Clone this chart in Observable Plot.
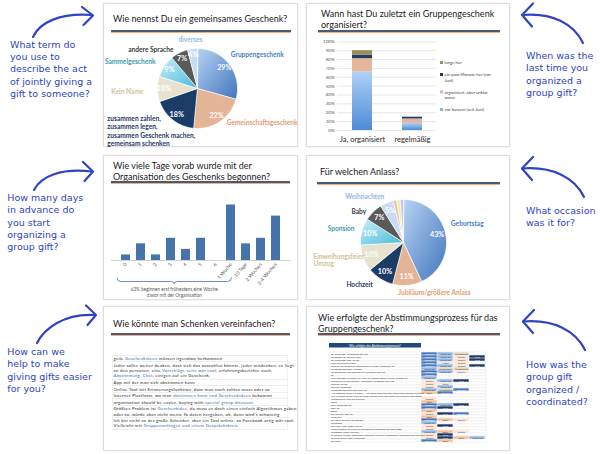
<!DOCTYPE html>
<html><head><meta charset="utf-8">
<script src="https://cdn.jsdelivr.net/npm/d3@7"></script>
<script src="https://cdn.jsdelivr.net/npm/@observablehq/plot@0.6"></script>
<style>
body{margin:0;background:#fff}
#page{position:relative;width:600px;height:454px;overflow:hidden;background:#fff;font-family:Lato,"Open Sans",sans-serif;color:#262626}
.card{position:absolute;background:#fff;border:1px solid #dedede;box-shadow:0 0 2px rgba(0,0,0,0.10);box-sizing:border-box}
.title{position:absolute;font-size:9px;line-height:11px;color:#1b1b1b;white-space:nowrap}
.rule{position:absolute;height:2px;background:#4b5a74;border-bottom:1px solid #f2ae7c}
.note{position:absolute;font-family:"DejaVu Sans",sans-serif;font-size:9.5px;line-height:12.3px;color:#2f44c4;white-space:nowrap}
.layer{position:absolute;left:0;top:0;width:600px;height:454px}
.half{position:absolute;transform:scale(0.5);transform-origin:0 0;white-space:nowrap}
.legend .item{display:flex;align-items:flex-start;margin-bottom:14px;font-size:8.6px;line-height:10.4px;color:#404040}
.legend .sw{width:6px;height:6px;margin:2px 3px 0 0;flex:none}
.answers{border-top:1px solid #d9d9d9;width:352px}
.answers > div{border-bottom:1px solid #dcdcdc;border-left:1px solid #e4e4e4;border-right:1px solid #e4e4e4;padding:0.8px 2px;font-size:8.6px;line-height:10.6px;letter-spacing:0.55px;color:#262626;white-space:nowrap}
.answers .ln{display:block}
.answers span{color:#3e68b0}
</style></head>
<body>
<div id="page">
<svg width="0" height="0" style="position:absolute">
  <defs>
    <linearGradient id="gBlue" x1="0" y1="0" x2="1" y2="1"><stop offset="0" stop-color="#b8d2f3"/><stop offset="1" stop-color="#3f76bd"/></linearGradient>
    <linearGradient id="gCyan" x1="0" y1="0" x2="1" y2="1"><stop offset="0" stop-color="#c8eefa"/><stop offset="1" stop-color="#47b9d8"/></linearGradient>
    <linearGradient id="gBar" x1="0" y1="0" x2="0" y2="1"><stop offset="0" stop-color="#aed1f8"/><stop offset="1" stop-color="#4d8bd4"/></linearGradient>
  </defs>
</svg>
</div>
<script>
// ================= DATA =================
// Panel 1 – Wie nennst Du ein gemeinsames Geschenk?
const termCategories = ["Gruppengeschenk","Gemeinschaftsgeschenk","zusammen zahlen,\nzusammen legen,\nzusammen Geschenk machen,\ngemeinsam schenken","Kein Name","Sammelgeschenk","andere Sprache","diverses"];
const termShares = [29,22,18,10,9,7,4];

// Panel 2 – Wann hast Du zuletzt ein Gruppengeschenk organisiert?
const lastCategories = ["Ja, organisiert","regelmäßig"];
const lastSeries = ["vor kurzem (seit Juni)","organisiert, aber unklar wann","ein paar Monate her (vor Juni)","lange her"];
const lastJa = [66,15,4,5];
const lastRegelmaessig = [8,5,2,0];
const lastTicks = [0,10,20,30,40,50,60,70,80,90,100];
const legendOrder = ["lange her","ein paar Monate her (vor\nJuni)","organisiert, aber unklar\nwann","vor kurzem (seit Juni)"];

// Panel 3 – Wie viele Tage vorab ...
const daysCategories = ["0","1","2","3","4","5","6","1 Woche","10 Tage","2 Wochen","3-4 Wochen"];
const daysCounts = [1,3,1,4,2,4,0,10,3,4,8];
const daysNote = "63% beginnen erst frühestens eine Woche\ndavor mit der Organisation";

// Panel 4 – Für welchen Anlass?
const occasionCategories = ["Geburtstag","Jubiläum/größere Anlass","Hochzeit","Einweihungsfeier\nUmzug","Sponsion","Baby","Weihnachten","","",""];
const occasionShares = [43,11,10,10,10,7,5,1.3,1.3,1.3];

// Panel 5 – Wie könnte man Schenken vereinfachen?
const simplifyAnswers = [
 "geile [Geschenkideen] müssen irgendwo herkommen",
 "Jeder sollte weiter denken, dass sich das auszahlen könnte, jeder mitdenken, es liegt\nan den personen, eine [Vorschläge seite wär cool], erfahrungsberichte auch,\n[Abstimmung, Chat], einigen auf ein Geschenk,",
 "App mit der man sich abstimmen kann",
 "Online Tool mit Erinnerungsfunktion, dass man noch zahlen muss oder so",
 "Internet Plattform, wo man [abstimmen kann und Geschenkideen] bekommt",
 "organisation should be easier, buying with [special group discount]",
 "Größtes Problem ist [Geschenkidee], da muss es doch einen einfach Algorithmus geben\noder so, würde aber nicht meine fb daten hergeben, ok, dann wird's schwierig",
 "Ich bin nicht so der große Schenker, aber ein Tool online, so Facebook artig wär cool.\nVielleicht mit [Gruppenanfragen und einem Gesprächskreis]"
];

// Panel 6 – Wie erfolgte der Abstimmungsprozess?
const processHeader = "Wie erfolgte der Abstimmungsprozess?";
const processAnswers = [
 "fb, whatsapp, Gruppenchats halt","whatsapp, fb, telefon, sms","fb, whatsapp, sms, Skype","über fb/telefon/video",
 "Telefon, bei größeren Geschenken via sms, whatsapp, fb","whatsapp gesucht, Hmmhs","Gruppenchat, bei anderen via whatsapp oder fb","fb",
 "via whatsapp in einem Fall, aber es kommt immer auf die Gruppe an","in diesem Fall telefonisch, ansonsten whatsapp, sms, etc.","Telefon, Skype","telefon, whatsapp",
 "whatsapp gesucht chat, oder fb","Alle angeschrieben via email -> fb, dann Infos erhalten, geht dann danach erhalten","Wir wussten direkt, dass es nicht einfach wird und haben die anderen überzeugt","(hin)gewählt, alles per Telefon",
 "Email","sms, whatsapp, fb","sms, fb","Email","per telefon, sms, fb","über mail","fb, email, telefon, mundpost","whatsapp",
 "fb/video, sms, hatte kein fb","Familienintern per Telefon besprochen nachdem ich über hatte","whatsapp, email, telefon",
 "in diesem Fall gar, haben das Geschenk einfach vorgegeben, ansonsten die Inhalten","Telefon, Email, sms, whatsapp","fb, email"
];
const processMethods = [
 ["Facebook","WhatsApp","Gruppenchat"],["Facebook","WhatsApp","Telefon","SMS"],["Facebook","WhatsApp","Telefon","SMS"],["Facebook","Video","Telefon"],
 ["Facebook","WhatsApp","Telefon","SMS"],["WhatsApp","Gruppenchat","Gruppenchat"],["Facebook","WhatsApp","Telefon"],["Facebook"],
 ["WhatsApp"],["Telefon","WhatsApp","SMS"],["Telefon","Skype"],["Telefon","WhatsApp"],
 ["WhatsApp","Gruppenchat","Facebook"],["Email","Facebook"],[],["Telefon"],
 ["Email"],["Facebook","WhatsApp","SMS"],["Facebook","SMS"],["Email"],["Telefon","SMS","Facebook"],["Email"],["Facebook","Email","Telefon"],["WhatsApp"],
 ["Telefon","SMS"],["Telefon"],["WhatsApp","Email","Telefon"],
 ["Telefon","SMS"],["Telefon","SMS","Email","WhatsApp"],["Facebook","Email"]
];

// Side annotations
const notesLeft = ["What term do\nyou use to\ndescribe the act\nof jointly giving a\ngift to someone?","How many days\nin advance do\nyou start\norganizing a\ngroup gift?","How can we\nhelp to make\ngiving gifts easier\nfor you?"];
const notesRight = ["When was the\nlast time you\norganized a\ngroup gift?","What occasion\nwas it for?","How was the\ngroup gift\norganized /\ncoordinated?"];

// Panel titles
const titles = ["Wie nennst Du ein gemeinsames Geschenk?","Wann hast Du zuletzt ein Gruppengeschenk\norganisiert?","Wie viele Tage vorab wurde mit der\nOrganisation des Geschenks begonnen?","Für welchen Anlass?","Wie könnte man Schenken vereinfachen?","Wie erfolgte der Abstimmungsprozess für das\nGruppengeschenk?"];

// ================= STYLES =================
const termFills = ["url(#gBlue)","#e4b496","#1c3c68","#e7e2d0","url(#gCyan)","#5a5a5a","#c9dcf3"];
const termLabelFills = ["#4a7ebf","#e49c6e","#1f3864","#cdc29c","#3b9ab5","#3a3a3a","#93b6e4"];
const termAnchors = ["start","start","start","end","end","end","middle"];
const termNudges = [[-5,-5],[2,-6],[-60.5,4.7],[-6,2],[-2,0],[-2,4],[-1,-1]];
const occFills = ["url(#gBlue)","#e4b496","#1c3c68","#e7e2d0","url(#gCyan)","#5a5a5a","#c9dcf3","#f3b8b6","#e6f0a2","#cfc3e2"];
const occLabelFills = ["#4a7ebf","#e49c6e","#1f3864","#d0bf93","#3b9ab5","#3a3a3a","#93b6e4","","",""];
const occAnchors = ["start","start","end","start","end","end","end","end","end","end"];
const occNudges = [[-3,-8],[-10,-1],[-3,-1.5],[-42,-1.3],[1,-1],[-1,5.5],[1,1.5],[0,0],[0,0],[0,0]];
const lastFills = ["url(#gBar)","#e5b699","#1f3d6b","#998f5e"];
const legendFills = ["#998f5e","#1f3d6b","#e5b699","#8ab4e6"];
const methodFills = {Facebook:"#4a78bf",WhatsApp:"#8fb5e3",Gruppenchat:"#ddd8c2",Telefon:"#fce4d4",SMS:"#1f3864",Email:"#f8c092",Skype:"#eeece1",Video:"#dbe5f1"};
const methodText = {Facebook:"#fff",SMS:"#fff"};

const page = document.getElementById("page");
function el(tag, cls, css, html){const e=document.createElement(tag); if(cls) e.className=cls; if(css) e.style.cssText=css; if(html!=null) e.innerHTML=html; page.appendChild(e); return e;}
function layer(svg){const d=el("div","layer"); d.appendChild(svg); return svg;}
const baseStyle = {background:"transparent", fontFamily:"Lato, 'Open Sans', sans-serif", overflow:"visible"};

// ---------- cards, titles, rules ----------
const cards = [[103,3,195,144],[306,3,204,144],[103,155,195,145],[306,155,204,145],[103,306,195,145],[306,306,204,145]];
cards.forEach(([l,t,w,h])=>el("div","card",`left:${l}px;top:${t}px;width:${w}px;height:${h}px`));
const titlePos = [[113,12.8],[321,7.5],[113,159.5],[320,165.5],[113,317.5],[318,311.5]];
titles.forEach((t,i)=>el("div","title",`left:${titlePos[i][0]}px;top:${titlePos[i][1]}px`, t.replace(/\n/g,"<br>")));
const rulePos = [[111,29.5,180],[318,29.5,182],[111,181,179],[317,181.5,183],[111,332.5,179],[318,332.5,182]];
rulePos.forEach(([l,t,w])=>el("div","rule",`left:${l}px;top:${t}px;width:${w}px`));

// ---------- pie helper ----------
function pieChart({cats, vals, fills, labelFills, anchors, nudges, cx, cy, r, labK, pctK, fontSize, pctSize, lineHeight, minPct}){
  const arcs = d3.pie().sort(null)(vals);
  const mid = a => (a.startAngle + a.endAngle)/2;
  const poly = arcs.flatMap((a,i)=>{
    const n = Math.max(2, Math.ceil((a.endAngle-a.startAngle)/(Math.PI/120)));
    const pts = [{k:i,x:0,y:0,f:fills[i]}];
    for(let j=0;j<=n;j++){const t=a.startAngle+(a.endAngle-a.startAngle)*j/n; pts.push({k:i,x:Math.sin(t),y:Math.cos(t),f:fills[i]});}
    return pts;
  });
  const labels = arcs.map((a,i)=>({text:cats[i], fill:labelFills[i], anchor:anchors[i],
    x: labK*Math.sin(mid(a)) + nudges[i][0]/r, y: labK*Math.cos(mid(a)) - nudges[i][1]/r})).filter(d=>d.text);
  const pcts = arcs.filter(a=>a.value>=minPct).map(a=>({x:pctK*Math.sin(mid(a)), y:pctK*Math.cos(mid(a)), t:a.value+"%"}));
  return Plot.plot({
    width:600, height:454, margin:0, style:baseStyle,
    x:{domain:[-1,1], range:[cx-r,cx+r], axis:null},
    y:{domain:[-1,1], range:[cy+r,cy-r], axis:null},
    color:{type:"identity"},
    marks:[
      Plot.line(poly,{x:"x",y:"y",z:"k",fill:"f",stroke:"white",strokeWidth:0.7,curve:"linear-closed"}),
      Plot.text(pcts,{x:"x",y:"y",text:"t",fill:"white",fontWeight:"bold",fontSize:pctSize}),
      ...["start","end","middle"].map(A=>Plot.text(labels,{filter:d=>d.anchor===A,x:"x",y:"y",text:"text",fill:"fill",textAnchor:A,fontWeight:"bold",fontSize,lineHeight}))
    ]
  });
}

// ---------- Panel 1 ----------
layer(pieChart({cats:termCategories, vals:termShares, fills:termFills, labelFills:termLabelFills, anchors:termAnchors, nudges:termNudges,
  cx:197, cy:88, r:40, labK:1.2, pctK:0.84, fontSize:6.6, pctSize:7.2, lineHeight:1.22, minPct:3}));

// ---------- Panel 2 ----------
const lastRows = lastCategories.flatMap((c,ci)=>lastSeries.map((s,si)=>({cat:c, series:s, v:[lastJa,lastRegelmaessig][ci][si]/100, fill:lastFills[si]})));
layer(Plot.plot({
  width:600, height:454, marginLeft:337, marginRight:164, marginTop:41.3, marginBottom:324, style:baseStyle,
  x:{domain:lastCategories, paddingInner:0.6, paddingOuter:0.29},
  y:{domain:[0,1]},
  color:{type:"identity"},
  marks:[
    Plot.gridY(lastTicks.map(d=>d/100),{stroke:"#d9d9d9",strokeOpacity:1,strokeWidth:0.6}),
    Plot.barY(lastRows,{x:"cat",y:"v",fill:"fill"}),
    Plot.axisY(lastTicks.map(d=>d/100),{tickSize:0,tickPadding:3,tickFormat:d=>Math.round(d*100)+"%",fontSize:4.5,color:"#595959",label:null}),
    Plot.axisX({tickSize:0,tickPadding:6,fontSize:7.5,color:"#262626",label:null})
  ]
}));
const leg = el("div","half legend","left:439.5px;top:59.5px");
legendOrder.forEach((t,i)=>{const it=document.createElement("div"); it.className="item";
  it.innerHTML=`<div class="sw" style="background:${legendFills[i]}"></div><div>${t.replace(/\n/g,"<br>")}</div>`; leg.appendChild(it);});

// ---------- Panel 3 ----------
const p3 = layer(Plot.plot({
  width:600, height:454, marginLeft:111, marginRight:309.4, marginTop:150, marginBottom:194, style:baseStyle,
  x:{domain:daysCategories, padding:0.4},
  y:{domain:[0,10], range:[260,204.5], axis:null},
  marks:[
    Plot.barY(daysCategories.map((c,i)=>({c, n:daysCounts[i]})),{x:"c",y:"n",fill:"#4673a9"}),
    Plot.ruleY([0],{stroke:"#bfbfbf",strokeWidth:0.7}),
    Plot.axisX({tickSize:0,tickPadding:3,tickRotate:-50,fontSize:5,color:"#595959",label:null})
  ]
}));
{
  const xs = p3.scale("x");
  const L = xs.apply("0") - 4, R = xs.apply("1 Woche") + xs.bandwidth/2 + 1, C = (L+R)/2;
  const g = d3.select(p3).append("g");
  g.append("path").attr("fill","none").attr("stroke","#4472c4").attr("stroke-width",0.8)
   .attr("d",`M${L},277.5 Q${L},281.5 ${L+4},281.5 H${C-3} Q${C},281.5 ${C},284 Q${C},281.5 ${C+3},281.5 H${R-4} Q${R},281.5 ${R},277.5`);
  daysNote.split("\n").forEach((t,i)=>g.append("text").attr("x",C).attr("y",290+i*5.8).attr("text-anchor","middle")
    .attr("dominant-baseline","middle").attr("font-size",4.7).attr("fill","#595959").text(t));
}

// ---------- Panel 4 ----------
layer(pieChart({cats:occasionCategories, vals:occasionShares, fills:occFills, labelFills:occLabelFills, anchors:occAnchors, nudges:occNudges,
  cx:403, cy:242, r:43, labK:1.2, pctK:0.8, fontSize:6.6, pctSize:7.2, lineHeight:1.1, minPct:3}));

// ---------- Panel 5 ----------
const ans = el("div","half answers","left:112px;top:355px");
simplifyAnswers.forEach(t=>{const d=document.createElement("div");
  d.innerHTML=t.split("\n").map(line=>`<div class="ln">${line.replace(/\[([^\]]+)\]/g,'<span>$1</span>')}</div>`).join("");
  ans.appendChild(d);});

// ---------- Panel 6 ----------
el("div","half",`left:329px;top:342.6px;width:184px;height:9.4px;background:#1f497d;color:#fff;font-size:6px;line-height:9.4px;text-align:center`, processHeader);
const procRows = processAnswers.map((t,r)=>({r,t}));
const procCells = processMethods.flatMap((ms,r)=>ms.map((m,j)=>({r,j,m})));
layer(Plot.plot({
  width:600, height:454, marginLeft:329, marginRight:114.5, marginTop:347.3, marginBottom:7.5, style:baseStyle,
  x:{type:"band", domain:[0,1,2,3], range:[421,485.5], padding:0, axis:null},
  y:{type:"band", domain:d3.range(processAnswers.length), padding:0, axis:null},
  color:{type:"identity"},
  marks:[
    Plot.cell(procRows,{y:"r",fill:"white",stroke:"#dadada",strokeWidth:0.35}),
    Plot.cell(procCells,{x:"j",y:"r",fill:d=>methodFills[d.m],inset:0.3}),
    Plot.text(procCells,{x:"j",y:"r",text:"m",fill:d=>methodText[d.m]||"#3a3a3a",fontSize:2.3}),
    Plot.text(procRows,{y:"r",text:"t",frameAnchor:"left",dx:1.5,textAnchor:"start",fontSize:2.6,fill:"#404040"})
  ]
}));

// ---------- side notes and arrows ----------
const leftPos = [[10,38.8],[7.3,192],[7.3,346]];
const rightPos = [[526,50],[526,205],[526,359]];
notesLeft.forEach((t,i)=>el("div","note",`left:${leftPos[i][0]}px;top:${leftPos[i][1]}px`, t.replace(/\n/g,"<br>")));
notesRight.forEach((t,i)=>el("div","note",`left:${rightPos[i][0]}px;top:${rightPos[i][1]}px`, t.replace(/\n/g,"<br>")));
const arrows = el("div","layer");
arrows.innerHTML = `<svg width="600" height="454" style="position:absolute;left:0;top:0" fill="none" stroke="#2f44c4" stroke-width="2.2" stroke-linecap="round" stroke-linejoin="round">
 <path d="M33,37 C40,22 60,13 91,15"/><path d="M82,7 L93,15.5 L83.5,25"/>
 <path d="M34,190 C41,176 61,168 92,171.5"/><path d="M83,162 L93,171.5 L84.5,181"/>
 <path d="M37,343 C44,329 64,313 95,315"/><path d="M86,305.5 L96,315 L87.5,325"/>
 <path d="M583,43 C574,24 552,12 522,15"/><path d="M533,3.5 L522,15 L532,26.5"/>
 <path d="M584,197 C575,178 553,166 522,168.5"/><path d="M533,157 L522,168.5 L532,180"/>
 <path d="M585,350 C576,331 554,319 523,321.5"/><path d="M534,310 L523,321.5 L533,333"/>
</svg>`;
</script>
</body></html>
